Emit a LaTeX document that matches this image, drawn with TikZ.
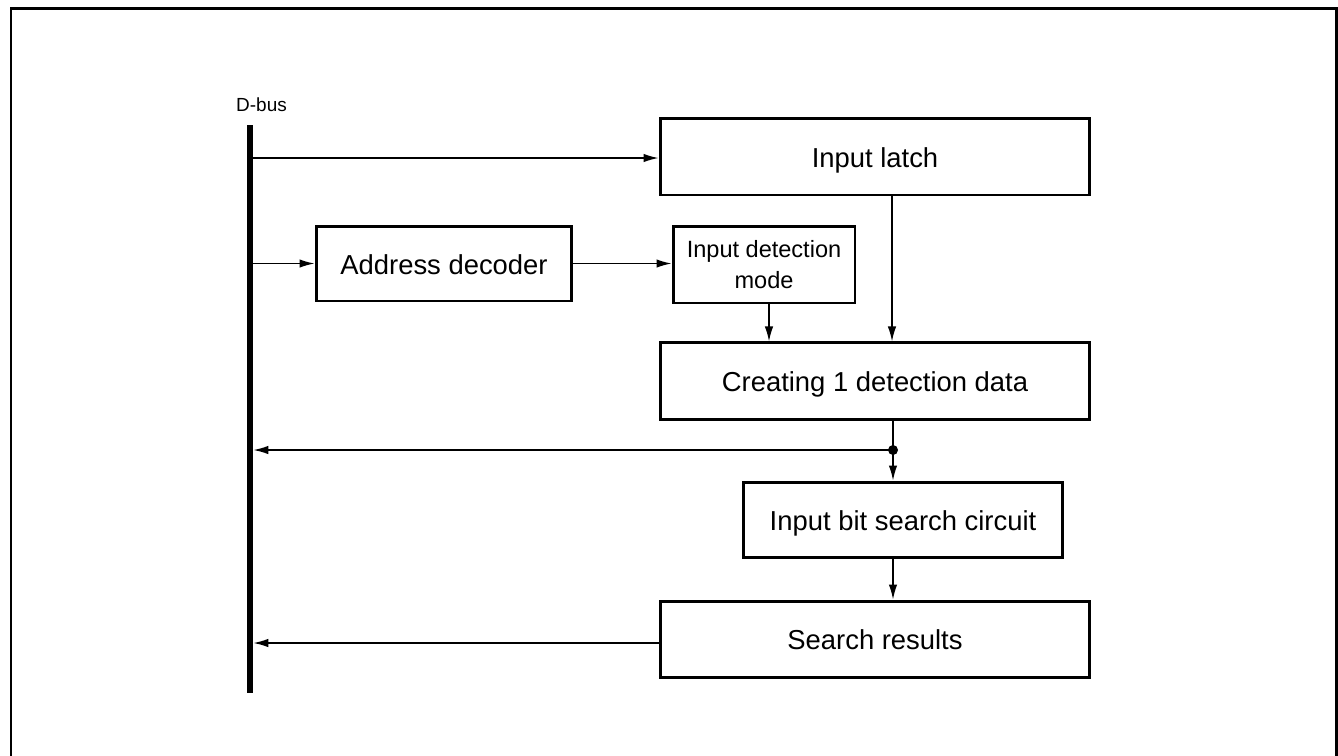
\documentclass[tikz,border=0pt]{standalone}
\usepackage{fontspec}
\setmainfont{Liberation Sans}
\usetikzlibrary{positioning,arrows.meta}

\begin{document}
\begin{tikzpicture}[x=0.02cm,y=-0.02cm,font=\fontsize{15.6}{18}\selectfont]
\tikzstyle{blk}=[%
minimum height=1.54cm,
draw, line width=1.7pt, fill=white, inner sep=0pt,
text height=0.5cm, text depth=0.08cm
]
\tikzstyle{arr}=[line width=0.85pt, -{Latex[length=0.3cm,width=0.17cm]}]
\tikzstyle{ln}=[line width=0.85pt]
   \useasboundingbox (0,0) rectangle (1338,755);
   \draw[line width=1.7pt] (11,770) -- (11,8) -- (1336,8) -- (1336,770);
   \node[fill=black, inner sep=0pt, minimum width=0.12cm, minimum height=11.36cm] (bus) at (250,409) {};
   \node[anchor=west, font=\fontsize{10.8}{13}\selectfont] (buslabel) at (230,105) {D-bus};
   \node[blk, minimum width=8.6cm] (latch) at (875,156.5) {Input latch};
   \node[blk, minimum width=5.12cm, minimum height=1.5cm] (addr) at (444,263.5) {Address decoder};
   \node[blk, minimum width=3.64cm, align=center, text height=, text depth=, font=\fontsize{13.4}{17.6}\selectfont] (mode) at (764,264.5) {Input detection\\mode};
   \node[blk, minimum width=8.6cm, below=2.9cm of latch] (create) {Creating 1 detection data};
   \node[blk, minimum width=6.4cm, minimum height=1.5cm] (search) at (903,519.5) {Input bit search circuit};
   \node[blk, minimum width=8.6cm, minimum height=1.52cm] (result) at (875,639) {Search results};
   \coordinate (tap) at (893,450);
   \fill (tap) circle (0.1cm);
   \draw[arr] (bus.east |- 0,158) -- (latch.west |- 0,158);
   \draw[arr] (bus.east |- addr.west) -- (addr.west);
   \draw[arr] (addr.east) -- (mode.west |- addr.east);
   \draw[arr] (mode.south -| 769,0) -- (create.north -| 769,0);
   \draw[arr] (latch.south -| 892,0) -- (create.north -| 892,0);
   \draw[ln] (create.south -| tap) -- (tap);
   \draw[arr] (tap) -- (bus.east |- tap);
   \draw[arr] (tap) -- (search.north -| tap);
   \draw[arr] (search.south -| tap) -- (result.north -| tap);
   \draw[arr] (result.west |- 0,643) -- (bus.east |- 0,643);
\end{tikzpicture}
\end{document}
